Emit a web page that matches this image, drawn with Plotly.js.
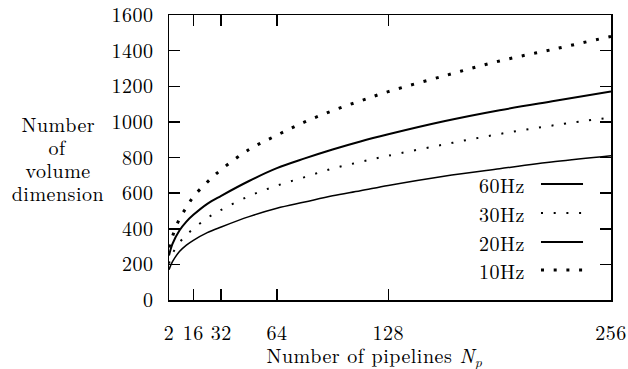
<!DOCTYPE html>
<html>
<head>
<meta charset="utf-8">
<script src="https://cdn.plot.ly/plotly-3.0.1.min.js"></script>
<style>
html,body{margin:0;padding:0;background:#fff;}
#chart{width:628px;height:369px;}
#chart svg text{letter-spacing:0.5px;}
</style>
</head>
<body>
<div id="chart"></div>
<script>
// Data
const pipelines = [2, 4, 8, 12, 16, 24, 32, 48, 64, 80, 96, 112, 128, 160, 192, 224, 256];
const hz60 = [170, 215, 272, 308, 335, 378, 410, 468, 515, 550, 585, 613, 643, 695, 737, 777, 810];
const hz30 = [205, 260, 322, 365, 400, 460, 506, 583, 642, 690, 738, 775, 810, 873, 932, 982, 1025];
const hz20 = [250, 315, 390, 440, 478, 540, 585, 668, 740, 795, 845, 890, 930, 1003, 1065, 1118, 1170];
const hz10 = [295, 358, 455, 520, 580, 662, 732, 845, 925, 1000, 1063, 1118, 1170, 1258, 1342, 1410, 1480];
const seriesNames = ["60Hz", "30Hz", "20Hz", "10Hz"];
const xTicks = [2, 16, 32, 64, 128, 256];
const yTicks = [0, 200, 400, 600, 800, 1000, 1200, 1400, 1600];
const yTitleLines = ["Number", "of", "volume", "dimension"];

const FONT = "Latin Modern Roman";
const FS = 20;
const styles = [
  {width: 1.5, dash: "solid"},
  {width: 2, dash: "2px,10.7px"},
  {width: 2, dash: "solid"},
  {width: 3, dash: "3px,9.7px"}
];
const values = [hz60, hz30, hz20, hz10];

const traces = values.map((v, i) => ({
  x: pipelines, y: v, name: seriesNames[i], type: "scatter", mode: "lines",
  line: {color: "#000", width: styles[i].width, dash: styles[i].dash, shape: "spline", smoothing: 1},
  showlegend: false, hoverinfo: "skip"
}));

// custom legend (text left of sample, as in the reference)
const legY = [0.407, 0.305, 0.2035, 0.105];
const annotations = seriesNames.map((n, i) => ({
  text: n, xref: "paper", yref: "paper", x: 0.8077, y: legY[i],
  xanchor: "right", yanchor: "middle", showarrow: false,
  font: {family: FONT, size: FS, color: "#000"}
}));
const shapes = seriesNames.map((n, i) => ({
  type: "line", xref: "paper", yref: "paper", x0: 0.8416, x1: 0.9367, y0: legY[i], y1: legY[i],
  line: {color: "#000", width: i === 3 ? 3 : 2, dash: styles[i].dash}
}));
const titleY = [0.618, 0.537, 0.457, 0.376];
yTitleLines.forEach((t, i) => annotations.push({
  text: t, xref: "paper", yref: "paper",
  x: -0.2511, y: titleY[i], xanchor: "center", yanchor: "middle", align: "center",
  showarrow: false, font: {family: FONT, size: FS, color: "#000"}
}));
annotations.push({
  text: "Number of pipelines <i>N<sub>p</sub></i>", xref: "paper", yref: "paper",
  x: 0.466, y: -0.195, xanchor: "center", yanchor: "middle",
  showarrow: false, font: {family: FONT, size: FS, color: "#000"}
});

const axisCommon = {
  showline: true, linecolor: "#000", linewidth: 1.5, mirror: "ticks",
  ticks: "inside", ticklen: 11, tickwidth: 1.5, tickcolor: "#000",
  showgrid: false, zeroline: false, ticklabeloverflow: "allow",
  tickfont: {family: FONT, size: FS, color: "#000"}
};

const layout = {
  width: 628, height: 369,
  font: {family: FONT, size: FS, color: "#000"},
  margin: {l: 169, r: 17, t: 15, b: 69},
  paper_bgcolor: "#fff", plot_bgcolor: "#fff",
  xaxis: Object.assign({}, axisCommon, {range: [2, 256], tickmode: "array", tickvals: xTicks, ticktext: xTicks.map(String), ticklabelstandoff: 14}),
  yaxis: Object.assign({}, axisCommon, {range: [0, 1600], tickmode: "array", tickvals: yTicks, ticktext: yTicks.map(String), ticklabelstandoff: 10}),
  annotations: annotations, shapes: shapes, showlegend: false
};

Plotly.newPlot("chart", traces, layout, {staticPlot: true, displayModeBar: false});
</script>
</body>
</html>
